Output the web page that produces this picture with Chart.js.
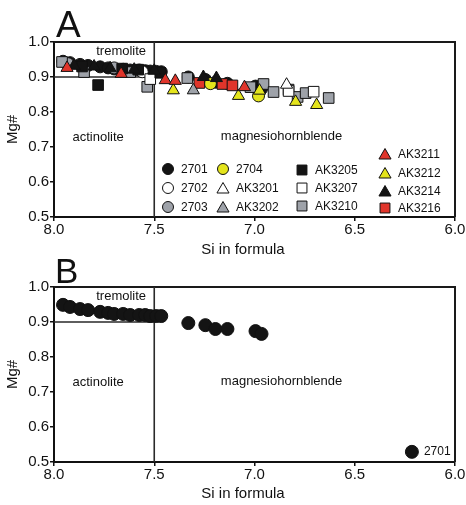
<!DOCTYPE html>
<html lang="en">
<head>
<meta charset="UTF-8">
<title>Mg# vs Si in formula</title>
<script src="https://cdn.jsdelivr.net/npm/chart.js"></script>
<style>
  body { margin: 0; background: #fff; }
  #wrap { position: relative; width: 466px; height: 505px; }
  #chartA { position: absolute; left: 0; top: 0; }
  #chartB { position: absolute; left: 0; top: 250px; }
</style>
</head>
<body>
<div id="wrap">
  <canvas id="chartA" width="466" height="262"></canvas>
  <canvas id="chartB" width="466" height="255"></canvas>
</div>
<script>
// axis ticks
const xTicks = [8.0, 7.5, 7.0, 6.5, 6.0];
const yTicks = [0.5, 0.6, 0.7, 0.8, 0.9, 1.0];

// series (sample names)
const seriesNames = ['2701', '2702', '2703', '2704', 'AK3201', 'AK3202', 'AK3205',
                     'AK3207', 'AK3210', 'AK3211', 'AK3212', 'AK3214', 'AK3216'];

// panel A data: [Si, Mg#]
const a2701 = [[7.955,0.945],[7.92,0.941],[7.87,0.936],[7.83,0.933],[7.77,0.929],[7.73,0.926],
               [7.70,0.923],[7.655,0.922],[7.62,0.92],[7.575,0.92],[7.545,0.918],[7.52,0.917],
               [7.49,0.916],[7.465,0.915],[7.33,0.9],[7.245,0.893],[7.195,0.885],[7.135,0.882],
               [6.995,0.874],[6.965,0.866]];
const a2702 = [[7.56,0.915]];
const a2703 = [[7.93,0.938],[7.70,0.926]];
const a2704 = [[7.22,0.881],[6.98,0.846]];
const a3201 = [[6.84,0.878]];
const a3202 = [[7.305,0.862]];
const a3205 = [[7.78,0.877],[7.58,0.921],[7.86,0.93],[7.66,0.924],[7.47,0.912]];
const a3207 = [[7.52,0.894],[6.83,0.86],[6.705,0.858]];
const a3210 = [[7.96,0.943],[7.85,0.914],[7.62,0.914],[7.535,0.872],[7.335,0.897],[7.02,0.871],
               [6.955,0.88],[6.905,0.857],[6.83,0.864],[6.785,0.843],[6.745,0.854],[6.63,0.84]];
const a3211 = [[7.935,0.926],[7.665,0.909],[7.445,0.891],[7.395,0.889],[7.05,0.871]];
const a3212 = [[7.405,0.862],[7.08,0.846],[6.975,0.861],[6.795,0.829],[6.69,0.82]];
const a3214 = [[7.255,0.9],[7.19,0.897],[7.90,0.932],[7.72,0.925],[7.80,0.93],[7.60,0.921],[7.50,0.918]];
const a3216 = [[7.275,0.883],[7.16,0.88],[7.11,0.876]];

// panel B data: sample 2701 only
const b2701 = [[7.955,0.949],[7.92,0.943],[7.87,0.937],[7.83,0.934],[7.77,0.929],[7.73,0.926],
               [7.70,0.923],[7.655,0.923],[7.62,0.92],[7.575,0.92],[7.545,0.92],[7.52,0.917],
               [7.49,0.917],[7.465,0.917],[7.33,0.897],[7.245,0.891],[7.195,0.88],[7.135,0.88],
               [6.995,0.874],[6.965,0.866],[6.215,0.529]];

const BLACK = '#141414', WHITE = '#ffffff', GRAY = '#9ea2a9', YELLOW = '#e4e41c', RED = '#e0352b';
const FONT = '"Liberation Sans", Arial, sans-serif';

const styleA = [
  { data: a2701, shape: 'circle',   color: BLACK,  order: 10 },
  { data: a2702, shape: 'circle',   color: WHITE,  order: 9 },
  { data: a2703, shape: 'circle',   color: GRAY,   order: 9 },
  { data: a2704, shape: 'circle',   color: YELLOW, order: 8 },
  { data: a3201, shape: 'triangle', color: WHITE,  order: 2 },
  { data: a3202, shape: 'triangle', color: GRAY,   order: 2 },
  { data: a3205, shape: 'rect',     color: BLACK,  order: 7 },
  { data: a3207, shape: 'rect',     color: WHITE,  order: 7 },
  { data: a3210, shape: 'rect',     color: GRAY,   order: 7 },
  { data: a3211, shape: 'triangle', color: RED,    order: 1 },
  { data: a3212, shape: 'triangle', color: YELLOW, order: 1 },
  { data: a3214, shape: 'triangle', color: BLACK,  order: 3 },
  { data: a3216, shape: 'rect',     color: RED,    order: 6 }
];

// legend slots inside panel A (canvas pixels)
const legendSlots = [[168,169],[168,188],[168,207],[223,169],[223,188],[223,207],
                     [302,170],[302,188],[302,206],[385,154],[385,173],[385,191],[385,208]];

function radiusFor(shape, big) {
  if (shape === 'rect') return 7.5;
  if (shape === 'triangle') return 7;
  return big ? 6.5 : 6;
}

function toXY(arr) {
  return arr.map(p => ({ x: p[0], y: p[1] }));
}

function makeDataset(label, s, big) {
  return {
    label: label,
    data: toXY(s.data),
    pointStyle: s.shape,
    pointRadius: radiusFor(s.shape, big),
    pointBackgroundColor: s.color,
    pointBorderColor: '#111',
    pointBorderWidth: 1,
    showLine: false,
    order: s.order
  };
}

function drawText(ctx, txt, x, y, size, align) {
  ctx.font = size + 'px ' + FONT;
  ctx.fillStyle = '#111';
  ctx.textAlign = align || 'center';
  ctx.textBaseline = 'middle';
  ctx.fillText(txt, x, y);
}

function diagramPlugin(opts) {
  return {
    id: 'diagram' + opts.letter,
    beforeDatasetsDraw(chart) {
      const ctx = chart.ctx, a = chart.chartArea;
      const xs = chart.scales.x, ys = chart.scales.y;
      ctx.save();
      ctx.strokeStyle = '#1a1a1a';
      ctx.lineWidth = 2;
      ctx.beginPath();
      ctx.moveTo(a.left, a.top);
      ctx.lineTo(a.right, a.top);
      ctx.lineTo(a.right, a.bottom);
      ctx.stroke();
      // field boundaries
      ctx.lineWidth = 1.6;
      ctx.strokeStyle = '#2a2a2a';
      const x75 = xs.getPixelForValue(7.5);
      ctx.beginPath();
      ctx.moveTo(x75, a.top);
      ctx.lineTo(x75, a.bottom);
      ctx.moveTo(a.left, ys.getPixelForValue(0.9));
      ctx.lineTo(x75, ys.getPixelForValue(0.9));
      ctx.stroke();
      drawText(ctx, 'tremolite', xs.getPixelForValue(7.665), ys.getPixelForValue(0.974), 13);
      drawText(ctx, 'actinolite', xs.getPixelForValue(7.78), ys.getPixelForValue(0.728), 13);
      drawText(ctx, 'magnesiohornblende', xs.getPixelForValue(6.865), ys.getPixelForValue(0.73), 13);
      // titles
      drawText(ctx, 'Si in formula', 243, opts.xTitleY, 15);
      ctx.save();
      ctx.translate(13, (a.top + a.bottom) / 2);
      ctx.rotate(-Math.PI / 2);
      drawText(ctx, 'Mg#', 0, 0, 15);
      ctx.restore();
      ctx.font = opts.letterSize + 'px ' + FONT;
      ctx.fillStyle = '#111';
      ctx.textAlign = 'left';
      ctx.textBaseline = 'alphabetic';
      ctx.fillText(opts.letter, opts.letterX, opts.letterY);
      ctx.restore();
    },
    afterDatasetsDraw(chart) {
      const ctx = chart.ctx;
      ctx.save();
      if (opts.legend) {
        styleA.forEach((s, i) => {
          const [lx, ly] = legendSlots[i];
          ctx.fillStyle = s.color;
          ctx.strokeStyle = '#111';
          ctx.lineWidth = 1;
          Chart.helpers.drawPoint(ctx, {
            pointStyle: s.shape,
            radius: s.shape === 'rect' ? 7 : (s.shape === 'triangle' ? 7 : 5.5),
            borderWidth: 1,
            rotation: 0
          }, lx, ly + (s.shape === 'triangle' ? 1.5 : 0));
          drawText(ctx, seriesNames[i], lx + 13, ly + 1, 12, 'left');
        });
      }
      if (opts.pointLabel) {
        const last = b2701[b2701.length - 1];
        drawText(ctx, '2701', chart.scales.x.getPixelForValue(last[0]) + 12,
                 chart.scales.y.getPixelForValue(last[1]), 12, 'left');
      }
      ctx.restore();
    }
  };
}

function makeChart(id, datasets, xAxisHeight, topPad, plugin) {
  return new Chart(document.getElementById(id), {
    type: 'scatter',
    data: { datasets: datasets },
    options: {
      responsive: false,
      animation: false,
      layout: { padding: { top: topPad, right: 11, left: 0, bottom: 0 } },
      plugins: { legend: { display: false }, tooltip: { enabled: false } },
      scales: {
        x: {
          type: 'linear',
          reverse: true,
          min: xTicks[xTicks.length - 1],
          max: xTicks[0],
          afterBuildTicks: s => { s.ticks = xTicks.map(v => ({ value: v })); },
          afterFit: s => { s.height = xAxisHeight; },
          border: { display: true, color: '#111', width: 2 },
          grid: { drawOnChartArea: false, drawTicks: true, tickLength: 4, color: '#111', lineWidth: 1.5 },
          ticks: {
            padding: 0,
            maxRotation: 0,
            autoSkip: false,
            color: '#111',
            font: { family: FONT, size: 15 },
            callback: v => Number(v).toFixed(1)
          }
        },
        y: {
          type: 'linear',
          min: yTicks[0],
          max: yTicks[yTicks.length - 1],
          afterBuildTicks: s => { s.ticks = yTicks.map(v => ({ value: v })); },
          afterFit: s => { s.width = 54; },
          border: { display: true, color: '#111', width: 2 },
          grid: { drawOnChartArea: false, drawTicks: true, tickLength: 4, color: '#111', lineWidth: 1.5 },
          ticks: {
            padding: 1,
            autoSkip: false,
            color: '#111',
            font: { family: FONT, size: 15 },
            callback: v => Number(v).toFixed(1)
          }
        }
      }
    },
    plugins: [plugin]
  });
}

// panel A
const dsA = styleA.map((s, i) => makeDataset(seriesNames[i], s, false));
makeChart('chartA', dsA, 45, 42, diagramPlugin({
  letter: 'A', letterX: 56, letterY: 37, letterSize: 37,
  xTitleY: 250, legend: true, pointLabel: false
}));

// panel B
const dsB = [makeDataset(seriesNames[0], { data: b2701, shape: 'circle', color: BLACK, order: 1 }, true)];
makeChart('chartB', dsB, 43, 37, diagramPlugin({
  letter: 'B', letterX: 55, letterY: 33, letterSize: 35,
  xTitleY: 244, legend: false, pointLabel: true
}));
</script>
</body>
</html>
